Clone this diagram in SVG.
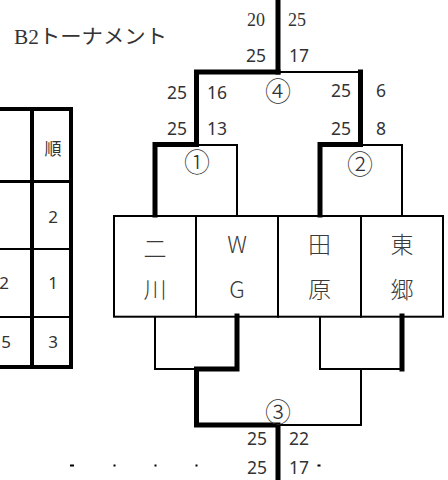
<svg xmlns="http://www.w3.org/2000/svg" width="448" height="480" viewBox="0 0 448 480">
<style>
.thin{stroke:#000;stroke-width:2;fill:none;stroke-linecap:square}
.thick{stroke:#000;stroke-width:5;fill:none;stroke-linecap:square;stroke-linejoin:miter}
.box{fill:#fff;stroke:#000;stroke-width:2}
.team{font-family:"Noto Sans CJK JP","Noto Sans",sans-serif;font-size:23px;fill:#3a3a3a;text-anchor:middle;dominant-baseline:central;font-weight:300}
.sc{font-family:"Noto Sans","Liberation Sans",sans-serif;font-size:17.5px;fill:#333;text-anchor:middle;dominant-baseline:central}
.scs{font-family:"Liberation Serif",serif;font-size:18px;fill:#333;text-anchor:middle;dominant-baseline:central}
.circ{font-family:"Noto Sans CJK JP",sans-serif;font-size:26px;fill:#333;text-anchor:middle;dominant-baseline:central;font-weight:300}
.tb{font-family:"Noto Sans","Liberation Sans","Noto Sans CJK JP",sans-serif;font-size:17px;fill:#333;text-anchor:middle;dominant-baseline:central}
</style>
<rect width="448" height="480" fill="#fff"/>

<text x="14" y="37" font-family="'Liberation Serif','Noto Sans CJK JP',serif" font-size="20" fill="#333" dominant-baseline="central" textLength="153" lengthAdjust="spacingAndGlyphs">B2トーナメント</text>

<g id="ranking-table">
  <line x1="0" y1="109" x2="73" y2="109" stroke="#000" stroke-width="4"/>
  <line x1="0" y1="181.5" x2="73" y2="181.5" stroke="#000" stroke-width="3"/>
  <line x1="0" y1="249" x2="73" y2="249" stroke="#000" stroke-width="2"/>
  <line x1="0" y1="317" x2="73" y2="317" stroke="#000" stroke-width="2"/>
  <line x1="0" y1="367" x2="73" y2="367" stroke="#000" stroke-width="4"/>
  <line x1="32" y1="107" x2="32" y2="369" stroke="#000" stroke-width="4"/>
  <line x1="71" y1="107" x2="71" y2="369" stroke="#000" stroke-width="4"/>
  <text class="tb" x="53" y="148" font-size="15">順</text>
  <text class="tb" x="53" y="216">2</text>
  <text class="tb" x="53" y="282">1</text>
  <text class="tb" x="53" y="341">3</text>
  <text class="tb" x="4" y="282" text-anchor="end">2</text>
  <text class="tb" x="6" y="341" text-anchor="end">5</text>
</g>

<g id="teams">
  <g id="team-nikawa"><rect class="box" x="114" y="216" width="82" height="100.7"/><text class="team" x="155" y="247">二</text><text class="team" x="155" y="288">川</text></g>
  <g id="team-wg"><rect class="box" x="196" y="216" width="82" height="100.7"/><text class="team" x="237" y="243">W</text><text class="team" x="237" y="288">G</text></g>
  <g id="team-tahara"><rect class="box" x="278" y="216" width="83" height="100.7"/><text class="team" x="319.5" y="243">田</text><text class="team" x="319.5" y="288">原</text></g>
  <g id="team-togo"><rect class="box" x="361" y="216" width="82" height="100.7"/><text class="team" x="402" y="243">東</text><text class="team" x="402" y="288">郷</text></g>
</g>

<g id="connectors">
  <polyline class="thin" points="196.5,145 237,145 237,216"/>
  <polyline class="thick" points="155,215 155,144.5 196.5,144.5 196.5,72 278,72"/>
  <polyline class="thin" points="361,145 402,145 402,216"/>
  <polyline class="thick" points="320,215 320,144.5 360.5,144.5 360.5,72"/>
  <line class="thin" x1="278" y1="72" x2="360" y2="72"/>
  <line class="thick" x1="278" y1="0" x2="278" y2="72"/>
  <polyline class="thin" points="155,317 155,369 237,369"/>
  <polyline class="thick" points="237,316 237,369 196.5,369 196.5,425 278,425 278,482"/>
  <polyline class="thin" points="320,317 320,369 402,369"/>
  <line class="thick" x1="402" y1="316" x2="402" y2="369"/>
  <polyline class="thin" points="361,369 361,425 278,425"/>
  <rect x="70" y="464.5" width="4" height="2" fill="#000"/>
  <rect x="113.5" y="464.5" width="2" height="2" fill="#000"/>
  <rect x="154.5" y="464.5" width="2" height="2" fill="#000"/>
  <rect x="195.5" y="464.5" width="2" height="2" fill="#000"/>
  <rect x="317.5" y="464.5" width="3" height="2" fill="#000"/>
</g>

<g id="scores">
  <text class="scs" x="256" y="20">20</text>
  <text class="scs" x="297" y="20">25</text>
  <text class="sc" x="256" y="55">25</text>
  <text class="sc" x="299" y="55">17</text>
  <text class="circ" x="278" y="89">④</text>
  <text class="sc" x="177" y="92">25</text>
  <text class="sc" x="217" y="92">16</text>
  <text class="sc" x="177" y="128">25</text>
  <text class="sc" x="217" y="128">13</text>
  <text class="sc" x="341" y="90">25</text>
  <text class="sc" x="381" y="90">6</text>
  <text class="sc" x="341" y="128">25</text>
  <text class="sc" x="381" y="128">8</text>
  <text class="circ" x="197" y="160">①</text>
  <text class="circ" x="360" y="162">②</text>
  <text class="circ" x="278" y="410">③</text>
  <text class="sc" x="257" y="438">25</text>
  <text class="sc" x="299" y="438">22</text>
  <text class="sc" x="257" y="467">25</text>
  <text class="sc" x="299" y="467">17</text>
</g>
</svg>
